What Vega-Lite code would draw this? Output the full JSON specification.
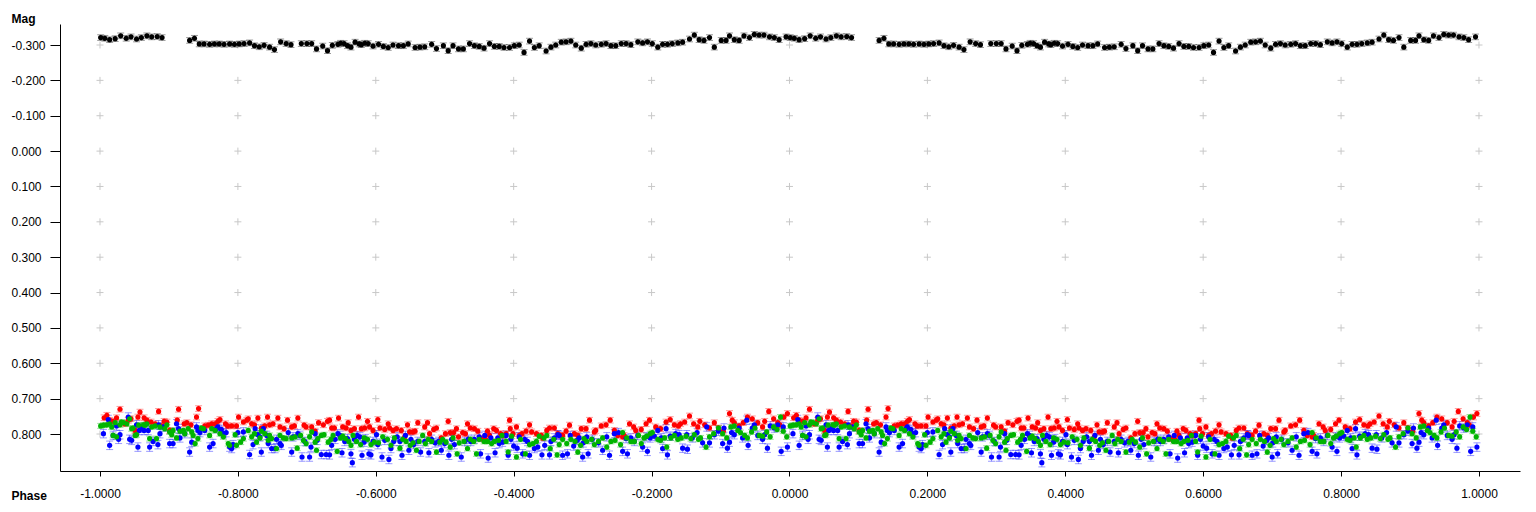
{
"$schema":"https://vega.github.io/schema/vega-lite/v6.json",
"width":1460,"height":447,
"autosize":{"type":"none"},
"padding":{"left":60,"top":24,"right":16,"bottom":41},
"config":{"view":{"stroke":null},"font":"Liberation Sans","locale":{"number":{"decimal":".","thousands":",","grouping":[3],"currency":["$",""],"minus":"-"}}},
"datasets":{
"grid":[{"value":-1,"m":[-0.3,-0.2,-0.1,0,0.1,0.2,0.3,0.4,0.5,0.6,0.7,0.8]},{"value":-0.8,"m":[-0.3,-0.2,-0.1,0,0.1,0.2,0.3,0.4,0.5,0.6,0.7,0.8]},{"value":-0.6,"m":[-0.3,-0.2,-0.1,0,0.1,0.2,0.3,0.4,0.5,0.6,0.7,0.8]},{"value":-0.4,"m":[-0.3,-0.2,-0.1,0,0.1,0.2,0.3,0.4,0.5,0.6,0.7,0.8]},{"value":-0.2,"m":[-0.3,-0.2,-0.1,0,0.1,0.2,0.3,0.4,0.5,0.6,0.7,0.8]},{"value":0,"m":[-0.3,-0.2,-0.1,0,0.1,0.2,0.3,0.4,0.5,0.6,0.7,0.8]},{"value":0.2,"m":[-0.3,-0.2,-0.1,0,0.1,0.2,0.3,0.4,0.5,0.6,0.7,0.8]},{"value":0.4,"m":[-0.3,-0.2,-0.1,0,0.1,0.2,0.3,0.4,0.5,0.6,0.7,0.8]},{"value":0.6,"m":[-0.3,-0.2,-0.1,0,0.1,0.2,0.3,0.4,0.5,0.6,0.7,0.8]},{"value":0.8,"m":[-0.3,-0.2,-0.1,0,0.1,0.2,0.3,0.4,0.5,0.6,0.7,0.8]},{"value":1,"m":[-0.3,-0.2,-0.1,0,0.1,0.2,0.3,0.4,0.5,0.6,0.7,0.8]}],
"err":[{"s":"K","e":0.008},{"s":"R","e":0.008},{"s":"B","e":0.012},{"s":"G","e":0.007}],
"obs":[
{"s":"K","a":-0.999,"b":0.001,"m":-0.321},{"s":"K","a":-0.993,"b":0.007,"m":-0.319},{"s":"K","a":-0.986,"b":0.014,"m":-0.315},{"s":"K","a":-0.978,"b":0.022,"m":-0.318},{"s":"K","a":-0.970,"b":0.030,"m":-0.326},{"s":"K","a":-0.962,"b":0.038,"m":-0.319},{"s":"K","a":-0.955,"b":0.045,"m":-0.323},{"s":"K","a":-0.947,"b":0.053,"m":-0.317},{"s":"K","a":-0.940,"b":0.060,"m":-0.321},{"s":"K","a":-0.932,"b":0.068,"m":-0.326},{"s":"K","a":-0.925,"b":0.075,"m":-0.323},{"s":"K","a":-0.917,"b":0.083,"m":-0.324},{"s":"K","a":-0.910,"b":0.090,"m":-0.321},
{"s":"K","a":-0.870,"b":0.130,"m":-0.313},{"s":"K","a":-0.863,"b":0.137,"m":-0.319},{"s":"K","a":-0.856,"b":0.144,"m":-0.303},{"s":"K","a":-0.849,"b":0.151,"m":-0.303},{"s":"K","a":-0.841,"b":0.159,"m":-0.302},{"s":"K","a":-0.834,"b":0.166,"m":-0.303},{"s":"K","a":-0.827,"b":0.173,"m":-0.303},{"s":"K","a":-0.820,"b":0.180,"m":-0.302},{"s":"K","a":-0.812,"b":0.188,"m":-0.303},{"s":"K","a":-0.805,"b":0.195,"m":-0.302},{"s":"K","a":-0.798,"b":0.202,"m":-0.303},{"s":"K","a":-0.791,"b":0.209,"m":-0.304},{"s":"K","a":-0.783,"b":0.217,"m":-0.306},{"s":"K","a":-0.776,"b":0.224,"m":-0.298},{"s":"K","a":-0.769,"b":0.231,"m":-0.295},{"s":"K","a":-0.762,"b":0.238,"m":-0.299},{"s":"K","a":-0.754,"b":0.246,"m":-0.294},{"s":"K","a":-0.747,"b":0.253,"m":-0.287},{"s":"K","a":-0.738,"b":0.262,"m":-0.309},{"s":"K","a":-0.730,"b":0.270,"m":-0.304},{"s":"K","a":-0.723,"b":0.277,"m":-0.301},{"s":"K","a":-0.708,"b":0.292,"m":-0.304},{"s":"K","a":-0.700,"b":0.300,"m":-0.304},{"s":"K","a":-0.693,"b":0.307,"m":-0.304},{"s":"K","a":-0.686,"b":0.314,"m":-0.289},{"s":"K","a":-0.677,"b":0.323,"m":-0.297},{"s":"K","a":-0.670,"b":0.330,"m":-0.284},{"s":"K","a":-0.663,"b":0.337,"m":-0.299},{"s":"K","a":-0.655,"b":0.345,"m":-0.302},{"s":"K","a":-0.651,"b":0.349,"m":-0.305},{"s":"K","a":-0.646,"b":0.354,"m":-0.304},{"s":"K","a":-0.641,"b":0.359,"m":-0.298},{"s":"K","a":-0.636,"b":0.364,"m":-0.294},{"s":"K","a":-0.630,"b":0.370,"m":-0.308},{"s":"K","a":-0.624,"b":0.376,"m":-0.303},{"s":"K","a":-0.621,"b":0.379,"m":-0.301},{"s":"K","a":-0.616,"b":0.384,"m":-0.305},{"s":"K","a":-0.611,"b":0.389,"m":-0.304},{"s":"K","a":-0.604,"b":0.396,"m":-0.297},{"s":"K","a":-0.596,"b":0.404,"m":-0.302},{"s":"K","a":-0.589,"b":0.411,"m":-0.296},{"s":"K","a":-0.582,"b":0.418,"m":-0.293},{"s":"K","a":-0.575,"b":0.425,"m":-0.300},{"s":"K","a":-0.567,"b":0.433,"m":-0.298},{"s":"K","a":-0.560,"b":0.440,"m":-0.298},{"s":"K","a":-0.553,"b":0.447,"m":-0.303},{"s":"K","a":-0.543,"b":0.457,"m":-0.293},{"s":"K","a":-0.536,"b":0.464,"m":-0.294},{"s":"K","a":-0.529,"b":0.471,"m":-0.295},{"s":"K","a":-0.519,"b":0.481,"m":-0.302},{"s":"K","a":-0.512,"b":0.488,"m":-0.290},{"s":"K","a":-0.502,"b":0.498,"m":-0.298},
{"s":"K","a":-0.495,"b":0.505,"m":-0.284},{"s":"K","a":-0.488,"b":0.512,"m":-0.298},{"s":"K","a":-0.480,"b":0.520,"m":-0.289},{"s":"K","a":-0.473,"b":0.527,"m":-0.289},{"s":"K","a":-0.464,"b":0.536,"m":-0.304},{"s":"K","a":-0.457,"b":0.543,"m":-0.298},{"s":"K","a":-0.450,"b":0.550,"m":-0.296},{"s":"K","a":-0.443,"b":0.557,"m":-0.291},{"s":"K","a":-0.435,"b":0.565,"m":-0.304},{"s":"K","a":-0.428,"b":0.572,"m":-0.296},{"s":"K","a":-0.421,"b":0.579,"m":-0.296},{"s":"K","a":-0.414,"b":0.586,"m":-0.293},{"s":"K","a":-0.406,"b":0.594,"m":-0.293},{"s":"K","a":-0.399,"b":0.601,"m":-0.298},{"s":"K","a":-0.392,"b":0.608,"m":-0.300},{"s":"K","a":-0.385,"b":0.615,"m":-0.279},{"s":"K","a":-0.377,"b":0.623,"m":-0.311},{"s":"K","a":-0.370,"b":0.630,"m":-0.293},{"s":"K","a":-0.363,"b":0.637,"m":-0.298},{"s":"K","a":-0.353,"b":0.647,"m":-0.283},{"s":"K","a":-0.346,"b":0.654,"m":-0.294},{"s":"K","a":-0.339,"b":0.661,"m":-0.300},{"s":"K","a":-0.331,"b":0.669,"m":-0.308},{"s":"K","a":-0.324,"b":0.676,"m":-0.309},{"s":"K","a":-0.317,"b":0.683,"m":-0.311},{"s":"K","a":-0.310,"b":0.690,"m":-0.300},{"s":"K","a":-0.302,"b":0.698,"m":-0.291},{"s":"K","a":-0.295,"b":0.705,"m":-0.302},{"s":"K","a":-0.288,"b":0.712,"m":-0.304},{"s":"K","a":-0.281,"b":0.719,"m":-0.300},{"s":"K","a":-0.273,"b":0.727,"m":-0.302},{"s":"K","a":-0.266,"b":0.734,"m":-0.304},{"s":"K","a":-0.259,"b":0.741,"m":-0.298},{"s":"K","a":-0.252,"b":0.748,"m":-0.298},{"s":"K","a":-0.244,"b":0.756,"m":-0.304},{"s":"K","a":-0.237,"b":0.763,"m":-0.304},{"s":"K","a":-0.230,"b":0.770,"m":-0.301},{"s":"K","a":-0.220,"b":0.780,"m":-0.309},{"s":"K","a":-0.213,"b":0.787,"m":-0.306},{"s":"K","a":-0.206,"b":0.794,"m":-0.309},{"s":"K","a":-0.199,"b":0.801,"m":-0.304},{"s":"K","a":-0.191,"b":0.809,"m":-0.294},{"s":"K","a":-0.184,"b":0.816,"m":-0.302},{"s":"K","a":-0.177,"b":0.823,"m":-0.302},{"s":"K","a":-0.170,"b":0.830,"m":-0.304},{"s":"K","a":-0.162,"b":0.838,"m":-0.306},{"s":"K","a":-0.155,"b":0.845,"m":-0.308},{"s":"K","a":-0.145,"b":0.855,"m":-0.317},{"s":"K","a":-0.138,"b":0.862,"m":-0.328},{"s":"K","a":-0.131,"b":0.869,"m":-0.315},{"s":"K","a":-0.124,"b":0.876,"m":-0.313},{"s":"K","a":-0.116,"b":0.884,"m":-0.321},{"s":"K","a":-0.109,"b":0.891,"m":-0.294},{"s":"K","a":-0.099,"b":0.901,"m":-0.313},{"s":"K","a":-0.092,"b":0.908,"m":-0.313},{"s":"K","a":-0.087,"b":0.913,"m":-0.326},{"s":"K","a":-0.080,"b":0.920,"m":-0.315},{"s":"K","a":-0.073,"b":0.927,"m":-0.313},{"s":"K","a":-0.066,"b":0.934,"m":-0.326},{"s":"K","a":-0.058,"b":0.942,"m":-0.321},{"s":"K","a":-0.051,"b":0.949,"m":-0.330},{"s":"K","a":-0.044,"b":0.956,"m":-0.328},{"s":"K","a":-0.037,"b":0.963,"m":-0.328},{"s":"K","a":-0.029,"b":0.971,"m":-0.323},{"s":"K","a":-0.022,"b":0.978,"m":-0.321},{"s":"K","a":-0.015,"b":0.985,"m":-0.315},{"s":"K","a":-0.005,"b":0.995,"m":-0.323},
{"s":"R","a":-0.994,"b":0.006,"m":0.754},{"s":"R","a":-0.990,"b":0.010,"m":0.747},{"s":"R","a":-0.986,"b":0.014,"m":0.761},{"s":"R","a":-0.981,"b":0.019,"m":0.764},{"s":"R","a":-0.976,"b":0.024,"m":0.754},{"s":"R","a":-0.971,"b":0.029,"m":0.730},{"s":"R","a":-0.964,"b":0.036,"m":0.771},{"s":"R","a":-0.959,"b":0.041,"m":0.761},{"s":"R","a":-0.955,"b":0.045,"m":0.757},{"s":"R","a":-0.949,"b":0.051,"m":0.790},{"s":"R","a":-0.945,"b":0.055,"m":0.752},{"s":"R","a":-0.942,"b":0.058,"m":0.738},{"s":"R","a":-0.936,"b":0.064,"m":0.754},{"s":"R","a":-0.932,"b":0.068,"m":0.761},{"s":"R","a":-0.926,"b":0.074,"m":0.766},{"s":"R","a":-0.920,"b":0.080,"m":0.771},{"s":"R","a":-0.915,"b":0.085,"m":0.736},{"s":"R","a":-0.911,"b":0.089,"m":0.777},{"s":"R","a":-0.907,"b":0.093,"m":0.764},{"s":"R","a":-0.903,"b":0.097,"m":0.766},{"s":"R","a":-0.899,"b":0.101,"m":0.790},{"s":"R","a":-0.888,"b":0.112,"m":0.761},{"s":"R","a":-0.886,"b":0.114,"m":0.730},{"s":"R","a":-0.878,"b":0.122,"m":0.771},{"s":"R","a":-0.874,"b":0.126,"m":0.768},{"s":"R","a":-0.868,"b":0.132,"m":0.774},{"s":"R","a":-0.860,"b":0.140,"m":0.752},{"s":"R","a":-0.857,"b":0.143,"m":0.728},{"s":"R","a":-0.848,"b":0.152,"m":0.777},{"s":"R","a":-0.843,"b":0.157,"m":0.775},{"s":"R","a":-0.838,"b":0.162,"m":0.771},{"s":"R","a":-0.833,"b":0.167,"m":0.771},{"s":"R","a":-0.829,"b":0.171,"m":0.764},{"s":"R","a":-0.826,"b":0.174,"m":0.759},{"s":"R","a":-0.818,"b":0.182,"m":0.771},{"s":"R","a":-0.815,"b":0.185,"m":0.777},{"s":"R","a":-0.809,"b":0.191,"m":0.777},{"s":"R","a":-0.802,"b":0.198,"m":0.777},{"s":"R","a":-0.799,"b":0.201,"m":0.752},{"s":"R","a":-0.792,"b":0.208,"m":0.766},{"s":"R","a":-0.787,"b":0.213,"m":0.761},{"s":"R","a":-0.785,"b":0.215,"m":0.757},{"s":"R","a":-0.780,"b":0.220,"m":0.771},{"s":"R","a":-0.776,"b":0.224,"m":0.774},{"s":"R","a":-0.771,"b":0.229,"m":0.755},{"s":"R","a":-0.766,"b":0.234,"m":0.783},{"s":"R","a":-0.761,"b":0.239,"m":0.777},{"s":"R","a":-0.757,"b":0.243,"m":0.752},{"s":"R","a":-0.754,"b":0.246,"m":0.774},{"s":"R","a":-0.749,"b":0.251,"m":0.771},{"s":"R","a":-0.742,"b":0.258,"m":0.755},{"s":"R","a":-0.739,"b":0.261,"m":0.780},{"s":"R","a":-0.733,"b":0.267,"m":0.785},{"s":"R","a":-0.728,"b":0.272,"m":0.761},{"s":"R","a":-0.722,"b":0.278,"m":0.780},{"s":"R","a":-0.718,"b":0.282,"m":0.777},{"s":"R","a":-0.713,"b":0.287,"m":0.755},{"s":"R","a":-0.704,"b":0.296,"m":0.775},{"s":"R","a":-0.701,"b":0.299,"m":0.780},{"s":"R","a":-0.693,"b":0.307,"m":0.780},{"s":"R","a":-0.688,"b":0.312,"m":0.792},{"s":"R","a":-0.683,"b":0.317,"m":0.768},{"s":"R","a":-0.676,"b":0.324,"m":0.774},{"s":"R","a":-0.670,"b":0.330,"m":0.764},
{"s":"R","a":-0.667,"b":0.333,"m":0.761},{"s":"R","a":-0.664,"b":0.336,"m":0.783},{"s":"R","a":-0.660,"b":0.340,"m":0.783},{"s":"R","a":-0.654,"b":0.346,"m":0.755},{"s":"R","a":-0.648,"b":0.352,"m":0.780},{"s":"R","a":-0.643,"b":0.357,"m":0.783},{"s":"R","a":-0.640,"b":0.360,"m":0.768},{"s":"R","a":-0.636,"b":0.364,"m":0.790},{"s":"R","a":-0.631,"b":0.369,"m":0.785},{"s":"R","a":-0.625,"b":0.375,"m":0.752},{"s":"R","a":-0.621,"b":0.379,"m":0.785},{"s":"R","a":-0.616,"b":0.384,"m":0.783},{"s":"R","a":-0.612,"b":0.388,"m":0.764},{"s":"R","a":-0.609,"b":0.391,"m":0.780},{"s":"R","a":-0.604,"b":0.396,"m":0.790},{"s":"R","a":-0.597,"b":0.403,"m":0.759},{"s":"R","a":-0.594,"b":0.406,"m":0.783},{"s":"R","a":-0.587,"b":0.413,"m":0.787},{"s":"R","a":-0.582,"b":0.418,"m":0.771},{"s":"R","a":-0.580,"b":0.420,"m":0.783},{"s":"R","a":-0.575,"b":0.425,"m":0.790},{"s":"R","a":-0.570,"b":0.430,"m":0.785},{"s":"R","a":-0.563,"b":0.437,"m":0.790},{"s":"R","a":-0.558,"b":0.442,"m":0.808},{"s":"R","a":-0.554,"b":0.446,"m":0.774},{"s":"R","a":-0.551,"b":0.449,"m":0.794},{"s":"R","a":-0.546,"b":0.454,"m":0.794},{"s":"R","a":-0.543,"b":0.457,"m":0.792},{"s":"R","a":-0.539,"b":0.461,"m":0.768},{"s":"R","a":-0.529,"b":0.471,"m":0.780},{"s":"R","a":-0.525,"b":0.475,"m":0.768},{"s":"R","a":-0.522,"b":0.478,"m":0.799},{"s":"R","a":-0.516,"b":0.484,"m":0.787},{"s":"R","a":-0.512,"b":0.488,"m":0.783},{"s":"R","a":-0.505,"b":0.495,"m":0.811},{"s":"R","a":-0.499,"b":0.501,"m":0.799},{"s":"R","a":-0.495,"b":0.505,"m":0.764},{"s":"R","a":-0.492,"b":0.508,"m":0.796},{"s":"R","a":-0.487,"b":0.513,"m":0.796},{"s":"R","a":-0.483,"b":0.517,"m":0.785},{"s":"R","a":-0.480,"b":0.520,"m":0.808},{"s":"R","a":-0.474,"b":0.526,"m":0.796},{"s":"R","a":-0.470,"b":0.530,"m":0.799},{"s":"R","a":-0.467,"b":0.533,"m":0.771},{"s":"R","a":-0.463,"b":0.537,"m":0.783},{"s":"R","a":-0.457,"b":0.543,"m":0.785},{"s":"R","a":-0.452,"b":0.548,"m":0.792},{"s":"R","a":-0.447,"b":0.553,"m":0.813},{"s":"R","a":-0.441,"b":0.559,"m":0.815},{"s":"R","a":-0.438,"b":0.562,"m":0.792},{"s":"R","a":-0.435,"b":0.565,"m":0.804},{"s":"R","a":-0.429,"b":0.571,"m":0.785},{"s":"R","a":-0.425,"b":0.575,"m":0.790},{"s":"R","a":-0.419,"b":0.581,"m":0.799},{"s":"R","a":-0.416,"b":0.584,"m":0.804},{"s":"R","a":-0.411,"b":0.589,"m":0.799},{"s":"R","a":-0.406,"b":0.594,"m":0.761},{"s":"R","a":-0.405,"b":0.595,"m":0.785},{"s":"R","a":-0.401,"b":0.599,"m":0.799},{"s":"R","a":-0.396,"b":0.604,"m":0.780},{"s":"R","a":-0.392,"b":0.608,"m":0.804},{"s":"R","a":-0.388,"b":0.612,"m":0.799},{"s":"R","a":-0.382,"b":0.618,"m":0.792},{"s":"R","a":-0.377,"b":0.623,"m":0.774},{"s":"R","a":-0.374,"b":0.626,"m":0.794},{"s":"R","a":-0.367,"b":0.633,"m":0.799},{"s":"R","a":-0.360,"b":0.640,"m":0.804},{"s":"R","a":-0.358,"b":0.642,"m":0.811},{"s":"R","a":-0.352,"b":0.648,"m":0.790},{"s":"R","a":-0.348,"b":0.652,"m":0.783},{"s":"R","a":-0.341,"b":0.659,"m":0.783},{"s":"R","a":-0.336,"b":0.664,"m":0.799},{"s":"R","a":-0.332,"b":0.668,"m":0.804},
{"s":"R","a":-0.329,"b":0.671,"m":0.804},{"s":"R","a":-0.324,"b":0.676,"m":0.792},{"s":"R","a":-0.319,"b":0.681,"m":0.775},{"s":"R","a":-0.312,"b":0.688,"m":0.799},{"s":"R","a":-0.307,"b":0.693,"m":0.804},{"s":"R","a":-0.302,"b":0.698,"m":0.785},{"s":"R","a":-0.295,"b":0.705,"m":0.785},{"s":"R","a":-0.290,"b":0.710,"m":0.761},{"s":"R","a":-0.283,"b":0.717,"m":0.794},{"s":"R","a":-0.281,"b":0.719,"m":0.790},{"s":"R","a":-0.273,"b":0.727,"m":0.777},{"s":"R","a":-0.266,"b":0.734,"m":0.774},{"s":"R","a":-0.260,"b":0.740,"m":0.761},{"s":"R","a":-0.254,"b":0.746,"m":0.790},{"s":"R","a":-0.249,"b":0.751,"m":0.804},{"s":"R","a":-0.242,"b":0.758,"m":0.808},{"s":"R","a":-0.240,"b":0.760,"m":0.804},{"s":"R","a":-0.232,"b":0.768,"m":0.771},{"s":"R","a":-0.226,"b":0.774,"m":0.780},{"s":"R","a":-0.223,"b":0.777,"m":0.790},{"s":"R","a":-0.215,"b":0.785,"m":0.787},{"s":"R","a":-0.208,"b":0.792,"m":0.771},{"s":"R","a":-0.203,"b":0.797,"m":0.761},{"s":"R","a":-0.199,"b":0.801,"m":0.804},{"s":"R","a":-0.194,"b":0.806,"m":0.780},{"s":"R","a":-0.187,"b":0.813,"m":0.785},{"s":"R","a":-0.179,"b":0.821,"m":0.766},{"s":"R","a":-0.173,"b":0.827,"m":0.759},{"s":"R","a":-0.167,"b":0.833,"m":0.774},{"s":"R","a":-0.161,"b":0.839,"m":0.777},{"s":"R","a":-0.158,"b":0.842,"m":0.771},{"s":"R","a":-0.152,"b":0.848,"m":0.766},{"s":"R","a":-0.145,"b":0.855,"m":0.749},{"s":"R","a":-0.139,"b":0.861,"m":0.771},{"s":"R","a":-0.133,"b":0.867,"m":0.780},{"s":"R","a":-0.130,"b":0.870,"m":0.764},{"s":"R","a":-0.123,"b":0.877,"m":0.774},{"s":"R","a":-0.116,"b":0.884,"m":0.783},{"s":"R","a":-0.109,"b":0.891,"m":0.768},{"s":"R","a":-0.103,"b":0.897,"m":0.783},{"s":"R","a":-0.096,"b":0.904,"m":0.792},{"s":"R","a":-0.087,"b":0.913,"m":0.742},{"s":"R","a":-0.083,"b":0.917,"m":0.761},{"s":"R","a":-0.080,"b":0.920,"m":0.768},{"s":"R","a":-0.073,"b":0.927,"m":0.777},{"s":"R","a":-0.067,"b":0.933,"m":0.768},{"s":"R","a":-0.061,"b":0.939,"m":0.752},{"s":"R","a":-0.054,"b":0.946,"m":0.757},{"s":"R","a":-0.046,"b":0.954,"m":0.768},{"s":"R","a":-0.039,"b":0.961,"m":0.780},{"s":"R","a":-0.036,"b":0.964,"m":0.764},{"s":"R","a":-0.030,"b":0.970,"m":0.736},{"s":"R","a":-0.023,"b":0.977,"m":0.757},{"s":"R","a":-0.017,"b":0.983,"m":0.768},{"s":"R","a":-0.014,"b":0.986,"m":0.774},{"s":"R","a":-0.008,"b":0.992,"m":0.752},{"s":"R","a":-0.003,"b":0.997,"m":0.742},
{"s":"B","a":-0.995,"b":0.005,"m":0.799},{"s":"B","a":-0.988,"b":0.012,"m":0.759},{"s":"B","a":-0.986,"b":0.014,"m":0.832},{"s":"B","a":-0.981,"b":0.019,"m":0.804},{"s":"B","a":-0.976,"b":0.024,"m":0.777},{"s":"B","a":-0.973,"b":0.027,"m":0.815},{"s":"B","a":-0.971,"b":0.029,"m":0.802},{"s":"B","a":-0.959,"b":0.041,"m":0.752},{"s":"B","a":-0.957,"b":0.043,"m":0.815},{"s":"B","a":-0.954,"b":0.046,"m":0.818},{"s":"B","a":-0.947,"b":0.053,"m":0.774},{"s":"B","a":-0.945,"b":0.055,"m":0.837},{"s":"B","a":-0.943,"b":0.057,"m":0.790},{"s":"B","a":-0.940,"b":0.060,"m":0.783},{"s":"B","a":-0.936,"b":0.064,"m":0.790},{"s":"B","a":-0.930,"b":0.070,"m":0.790},{"s":"B","a":-0.928,"b":0.072,"m":0.837},{"s":"B","a":-0.923,"b":0.077,"m":0.821},{"s":"B","a":-0.916,"b":0.084,"m":0.830},{"s":"B","a":-0.915,"b":0.085,"m":0.774},{"s":"B","a":-0.913,"b":0.087,"m":0.799},{"s":"B","a":-0.908,"b":0.092,"m":0.780},{"s":"B","a":-0.899,"b":0.101,"m":0.827},{"s":"B","a":-0.894,"b":0.106,"m":0.827},{"s":"B","a":-0.889,"b":0.111,"m":0.771},{"s":"B","a":-0.886,"b":0.114,"m":0.785},{"s":"B","a":-0.884,"b":0.116,"m":0.811},{"s":"B","a":-0.877,"b":0.123,"m":0.799},{"s":"B","a":-0.870,"b":0.130,"m":0.851},{"s":"B","a":-0.867,"b":0.133,"m":0.823},{"s":"B","a":-0.860,"b":0.140,"m":0.780},{"s":"B","a":-0.858,"b":0.142,"m":0.790},{"s":"B","a":-0.855,"b":0.145,"m":0.796},{"s":"B","a":-0.848,"b":0.152,"m":0.790},{"s":"B","a":-0.841,"b":0.159,"m":0.837},{"s":"B","a":-0.836,"b":0.164,"m":0.827},{"s":"B","a":-0.831,"b":0.169,"m":0.785},{"s":"B","a":-0.829,"b":0.171,"m":0.780},{"s":"B","a":-0.824,"b":0.176,"m":0.787},{"s":"B","a":-0.821,"b":0.179,"m":0.799},{"s":"B","a":-0.817,"b":0.183,"m":0.796},{"s":"B","a":-0.812,"b":0.188,"m":0.837},{"s":"B","a":-0.809,"b":0.191,"m":0.841},{"s":"B","a":-0.807,"b":0.193,"m":0.830},{"s":"B","a":-0.800,"b":0.200,"m":0.796},{"s":"B","a":-0.792,"b":0.208,"m":0.794},{"s":"B","a":-0.783,"b":0.217,"m":0.858},{"s":"B","a":-0.778,"b":0.222,"m":0.830},{"s":"B","a":-0.775,"b":0.225,"m":0.785},{"s":"B","a":-0.771,"b":0.229,"m":0.802},{"s":"B","a":-0.768,"b":0.232,"m":0.808},{"s":"B","a":-0.766,"b":0.234,"m":0.851},{"s":"B","a":-0.763,"b":0.237,"m":0.785},{"s":"B","a":-0.758,"b":0.242,"m":0.804},{"s":"B","a":-0.756,"b":0.244,"m":0.827},{"s":"B","a":-0.751,"b":0.249,"m":0.841},{"s":"B","a":-0.746,"b":0.254,"m":0.841},{"s":"B","a":-0.744,"b":0.256,"m":0.815},{"s":"B","a":-0.739,"b":0.261,"m":0.827},{"s":"B","a":-0.737,"b":0.263,"m":0.832},{"s":"B","a":-0.727,"b":0.273,"m":0.796},{"s":"B","a":-0.722,"b":0.278,"m":0.851},{"s":"B","a":-0.720,"b":0.280,"m":0.808},{"s":"B","a":-0.713,"b":0.287,"m":0.799},{"s":"B","a":-0.710,"b":0.290,"m":0.804},{"s":"B","a":-0.707,"b":0.293,"m":0.865},{"s":"B","a":-0.703,"b":0.297,"m":0.821},{"s":"B","a":-0.696,"b":0.304,"m":0.865},{"s":"B","a":-0.694,"b":0.306,"m":0.837},{"s":"B","a":-0.688,"b":0.312,"m":0.799},{"s":"B","a":-0.685,"b":0.315,"m":0.818},{"s":"B","a":-0.679,"b":0.321,"m":0.858},{"s":"B","a":-0.672,"b":0.328,"m":0.858},
{"s":"B","a":-0.667,"b":0.333,"m":0.859},{"s":"B","a":-0.664,"b":0.336,"m":0.832},{"s":"B","a":-0.659,"b":0.341,"m":0.815},{"s":"B","a":-0.655,"b":0.345,"m":0.799},{"s":"B","a":-0.652,"b":0.348,"m":0.804},{"s":"B","a":-0.649,"b":0.351,"m":0.853},{"s":"B","a":-0.645,"b":0.355,"m":0.821},{"s":"B","a":-0.641,"b":0.359,"m":0.813},{"s":"B","a":-0.636,"b":0.364,"m":0.856},{"s":"B","a":-0.634,"b":0.366,"m":0.881},{"s":"B","a":-0.631,"b":0.369,"m":0.815},{"s":"B","a":-0.627,"b":0.373,"m":0.804},{"s":"B","a":-0.623,"b":0.377,"m":0.808},{"s":"B","a":-0.620,"b":0.380,"m":0.860},{"s":"B","a":-0.617,"b":0.383,"m":0.823},{"s":"B","a":-0.615,"b":0.385,"m":0.813},{"s":"B","a":-0.610,"b":0.390,"m":0.856},{"s":"B","a":-0.607,"b":0.393,"m":0.859},{"s":"B","a":-0.604,"b":0.396,"m":0.821},{"s":"B","a":-0.599,"b":0.401,"m":0.802},{"s":"B","a":-0.597,"b":0.403,"m":0.830},{"s":"B","a":-0.591,"b":0.409,"m":0.865},{"s":"B","a":-0.587,"b":0.413,"m":0.818},{"s":"B","a":-0.581,"b":0.419,"m":0.872},{"s":"B","a":-0.578,"b":0.422,"m":0.841},{"s":"B","a":-0.574,"b":0.426,"m":0.821},{"s":"B","a":-0.569,"b":0.431,"m":0.808},{"s":"B","a":-0.565,"b":0.435,"m":0.821},{"s":"B","a":-0.562,"b":0.438,"m":0.860},{"s":"B","a":-0.557,"b":0.443,"m":0.804},{"s":"B","a":-0.552,"b":0.448,"m":0.846},{"s":"B","a":-0.549,"b":0.451,"m":0.815},{"s":"B","a":-0.545,"b":0.455,"m":0.830},{"s":"B","a":-0.539,"b":0.461,"m":0.821},{"s":"B","a":-0.535,"b":0.465,"m":0.851},{"s":"B","a":-0.529,"b":0.471,"m":0.821},{"s":"B","a":-0.523,"b":0.477,"m":0.853},{"s":"B","a":-0.519,"b":0.481,"m":0.815},{"s":"B","a":-0.514,"b":0.486,"m":0.825},{"s":"B","a":-0.509,"b":0.491,"m":0.821},{"s":"B","a":-0.505,"b":0.495,"m":0.846},{"s":"B","a":-0.500,"b":0.500,"m":0.827},{"s":"B","a":-0.494,"b":0.506,"m":0.860},{"s":"B","a":-0.490,"b":0.510,"m":0.815},{"s":"B","a":-0.486,"b":0.514,"m":0.830},{"s":"B","a":-0.476,"b":0.524,"m":0.865},{"s":"B","a":-0.471,"b":0.529,"m":0.821},{"s":"B","a":-0.466,"b":0.534,"m":0.815},{"s":"B","a":-0.462,"b":0.538,"m":0.821},{"s":"B","a":-0.457,"b":0.543,"m":0.815},{"s":"B","a":-0.450,"b":0.550,"m":0.808},{"s":"B","a":-0.448,"b":0.552,"m":0.856},{"s":"B","a":-0.442,"b":0.558,"m":0.804},{"s":"B","a":-0.437,"b":0.563,"m":0.868},{"s":"B","a":-0.433,"b":0.567,"m":0.811},{"s":"B","a":-0.427,"b":0.573,"m":0.853},{"s":"B","a":-0.423,"b":0.577,"m":0.811},{"s":"B","a":-0.421,"b":0.579,"m":0.827},{"s":"B","a":-0.416,"b":0.584,"m":0.823},{"s":"B","a":-0.411,"b":0.589,"m":0.804},{"s":"B","a":-0.408,"b":0.592,"m":0.860},{"s":"B","a":-0.404,"b":0.596,"m":0.815},{"s":"B","a":-0.400,"b":0.600,"m":0.834},{"s":"B","a":-0.395,"b":0.605,"m":0.840},{"s":"B","a":-0.392,"b":0.608,"m":0.808},{"s":"B","a":-0.387,"b":0.613,"m":0.856},{"s":"B","a":-0.384,"b":0.616,"m":0.815},{"s":"B","a":-0.380,"b":0.620,"m":0.821},{"s":"B","a":-0.377,"b":0.623,"m":0.860},{"s":"B","a":-0.370,"b":0.630,"m":0.841},{"s":"B","a":-0.365,"b":0.635,"m":0.837},{"s":"B","a":-0.359,"b":0.641,"m":0.859},{"s":"B","a":-0.355,"b":0.645,"m":0.832},{"s":"B","a":-0.348,"b":0.652,"m":0.859},{"s":"B","a":-0.346,"b":0.654,"m":0.821},{"s":"B","a":-0.341,"b":0.659,"m":0.811},{"s":"B","a":-0.336,"b":0.664,"m":0.802},{"s":"B","a":-0.334,"b":0.666,"m":0.804},
{"s":"B","a":-0.329,"b":0.671,"m":0.860},{"s":"B","a":-0.322,"b":0.678,"m":0.856},{"s":"B","a":-0.318,"b":0.682,"m":0.804},{"s":"B","a":-0.313,"b":0.687,"m":0.834},{"s":"B","a":-0.308,"b":0.692,"m":0.818},{"s":"B","a":-0.305,"b":0.695,"m":0.811},{"s":"B","a":-0.300,"b":0.700,"m":0.865},{"s":"B","a":-0.299,"b":0.701,"m":0.825},{"s":"B","a":-0.294,"b":0.706,"m":0.808},{"s":"B","a":-0.292,"b":0.708,"m":0.856},{"s":"B","a":-0.286,"b":0.714,"m":0.815},{"s":"B","a":-0.277,"b":0.723,"m":0.825},{"s":"B","a":-0.271,"b":0.729,"m":0.846},{"s":"B","a":-0.265,"b":0.735,"m":0.808},{"s":"B","a":-0.261,"b":0.739,"m":0.860},{"s":"B","a":-0.254,"b":0.746,"m":0.799},{"s":"B","a":-0.248,"b":0.752,"m":0.796},{"s":"B","a":-0.242,"b":0.758,"m":0.849},{"s":"B","a":-0.237,"b":0.763,"m":0.813},{"s":"B","a":-0.235,"b":0.765,"m":0.856},{"s":"B","a":-0.230,"b":0.770,"m":0.811},{"s":"B","a":-0.225,"b":0.775,"m":0.821},{"s":"B","a":-0.220,"b":0.780,"m":0.804},{"s":"B","a":-0.213,"b":0.787,"m":0.837},{"s":"B","a":-0.208,"b":0.792,"m":0.808},{"s":"B","a":-0.206,"b":0.794,"m":0.849},{"s":"B","a":-0.202,"b":0.798,"m":0.811},{"s":"B","a":-0.196,"b":0.804,"m":0.806},{"s":"B","a":-0.191,"b":0.809,"m":0.790},{"s":"B","a":-0.186,"b":0.814,"m":0.811},{"s":"B","a":-0.184,"b":0.816,"m":0.841},{"s":"B","a":-0.179,"b":0.821,"m":0.785},{"s":"B","a":-0.177,"b":0.823,"m":0.859},{"s":"B","a":-0.173,"b":0.827,"m":0.806},{"s":"B","a":-0.165,"b":0.835,"m":0.799},{"s":"B","a":-0.160,"b":0.840,"m":0.802},{"s":"B","a":-0.155,"b":0.845,"m":0.840},{"s":"B","a":-0.149,"b":0.851,"m":0.802},{"s":"B","a":-0.148,"b":0.852,"m":0.843},{"s":"B","a":-0.141,"b":0.859,"m":0.811},{"s":"B","a":-0.134,"b":0.866,"m":0.796},{"s":"B","a":-0.126,"b":0.874,"m":0.825},{"s":"B","a":-0.120,"b":0.880,"m":0.780},{"s":"B","a":-0.116,"b":0.884,"m":0.825},{"s":"B","a":-0.109,"b":0.891,"m":0.802},{"s":"B","a":-0.103,"b":0.897,"m":0.792},{"s":"B","a":-0.097,"b":0.903,"m":0.827},{"s":"B","a":-0.095,"b":0.905,"m":0.783},{"s":"B","a":-0.090,"b":0.910,"m":0.840},{"s":"B","a":-0.087,"b":0.913,"m":0.823},{"s":"B","a":-0.084,"b":0.916,"m":0.796},{"s":"B","a":-0.080,"b":0.920,"m":0.802},{"s":"B","a":-0.073,"b":0.927,"m":0.783},{"s":"B","a":-0.068,"b":0.932,"m":0.811},{"s":"B","a":-0.062,"b":0.938,"m":0.761},{"s":"B","a":-0.060,"b":0.940,"m":0.832},{"s":"B","a":-0.054,"b":0.946,"m":0.783},{"s":"B","a":-0.051,"b":0.949,"m":0.774},{"s":"B","a":-0.046,"b":0.954,"m":0.804},{"s":"B","a":-0.039,"b":0.961,"m":0.815},{"s":"B","a":-0.036,"b":0.964,"m":0.802},{"s":"B","a":-0.032,"b":0.968,"m":0.840},{"s":"B","a":-0.028,"b":0.972,"m":0.777},{"s":"B","a":-0.022,"b":0.978,"m":0.783},{"s":"B","a":-0.017,"b":0.983,"m":0.774},{"s":"B","a":-0.012,"b":0.988,"m":0.849},{"s":"B","a":-0.009,"b":0.991,"m":0.780},{"s":"B","a":-0.003,"b":0.997,"m":0.837},
{"s":"G","a":-0.999,"b":0.001,"m":0.777},{"s":"G","a":-0.995,"b":0.005,"m":0.775},{"s":"G","a":-0.990,"b":0.010,"m":0.774},{"s":"G","a":-0.986,"b":0.014,"m":0.771},{"s":"G","a":-0.983,"b":0.017,"m":0.780},{"s":"G","a":-0.981,"b":0.019,"m":0.804},{"s":"G","a":-0.978,"b":0.022,"m":0.768},{"s":"G","a":-0.976,"b":0.024,"m":0.808},{"s":"G","a":-0.971,"b":0.029,"m":0.774},{"s":"G","a":-0.969,"b":0.031,"m":0.766},{"s":"G","a":-0.966,"b":0.034,"m":0.768},{"s":"G","a":-0.961,"b":0.039,"m":0.771},{"s":"G","a":-0.957,"b":0.043,"m":0.757},{"s":"G","a":-0.954,"b":0.046,"m":0.785},{"s":"G","a":-0.952,"b":0.048,"m":0.783},{"s":"G","a":-0.949,"b":0.051,"m":0.804},{"s":"G","a":-0.947,"b":0.053,"m":0.802},{"s":"G","a":-0.944,"b":0.056,"m":0.775},{"s":"G","a":-0.937,"b":0.063,"m":0.774},{"s":"G","a":-0.935,"b":0.065,"m":0.775},{"s":"G","a":-0.932,"b":0.068,"m":0.771},{"s":"G","a":-0.928,"b":0.072,"m":0.813},{"s":"G","a":-0.925,"b":0.075,"m":0.780},{"s":"G","a":-0.920,"b":0.080,"m":0.777},{"s":"G","a":-0.918,"b":0.082,"m":0.813},{"s":"G","a":-0.913,"b":0.087,"m":0.780},{"s":"G","a":-0.906,"b":0.094,"m":0.785},{"s":"G","a":-0.903,"b":0.097,"m":0.774},{"s":"G","a":-0.899,"b":0.101,"m":0.794},{"s":"G","a":-0.896,"b":0.104,"m":0.802},{"s":"G","a":-0.894,"b":0.106,"m":0.790},{"s":"G","a":-0.889,"b":0.111,"m":0.811},{"s":"G","a":-0.884,"b":0.116,"m":0.792},{"s":"G","a":-0.879,"b":0.121,"m":0.790},{"s":"G","a":-0.877,"b":0.123,"m":0.799},{"s":"G","a":-0.872,"b":0.128,"m":0.785},{"s":"G","a":-0.867,"b":0.133,"m":0.794},{"s":"G","a":-0.865,"b":0.135,"m":0.804},{"s":"G","a":-0.862,"b":0.138,"m":0.827},{"s":"G","a":-0.858,"b":0.142,"m":0.813},{"s":"G","a":-0.853,"b":0.147,"m":0.783},{"s":"G","a":-0.850,"b":0.150,"m":0.785},{"s":"G","a":-0.841,"b":0.159,"m":0.804},{"s":"G","a":-0.838,"b":0.162,"m":0.785},{"s":"G","a":-0.833,"b":0.167,"m":0.790},{"s":"G","a":-0.826,"b":0.174,"m":0.799},{"s":"G","a":-0.821,"b":0.179,"m":0.808},{"s":"G","a":-0.814,"b":0.186,"m":0.827},{"s":"G","a":-0.812,"b":0.188,"m":0.832},{"s":"G","a":-0.804,"b":0.196,"m":0.802},{"s":"G","a":-0.802,"b":0.198,"m":0.832},{"s":"G","a":-0.796,"b":0.204,"m":0.823},{"s":"G","a":-0.792,"b":0.208,"m":0.813},{"s":"G","a":-0.785,"b":0.215,"m":0.790},{"s":"G","a":-0.780,"b":0.220,"m":0.808},{"s":"G","a":-0.776,"b":0.224,"m":0.799},{"s":"G","a":-0.773,"b":0.227,"m":0.823},{"s":"G","a":-0.768,"b":0.232,"m":0.811},{"s":"G","a":-0.766,"b":0.234,"m":0.792},{"s":"G","a":-0.761,"b":0.239,"m":0.799},{"s":"G","a":-0.756,"b":0.244,"m":0.818},{"s":"G","a":-0.754,"b":0.246,"m":0.804},{"s":"G","a":-0.751,"b":0.249,"m":0.813},{"s":"G","a":-0.744,"b":0.256,"m":0.841},{"s":"G","a":-0.739,"b":0.261,"m":0.804},{"s":"G","a":-0.734,"b":0.266,"m":0.811},{"s":"G","a":-0.730,"b":0.270,"m":0.813},{"s":"G","a":-0.722,"b":0.278,"m":0.811},{"s":"G","a":-0.717,"b":0.283,"m":0.808},{"s":"G","a":-0.714,"b":0.286,"m":0.840},{"s":"G","a":-0.709,"b":0.291,"m":0.804},{"s":"G","a":-0.705,"b":0.295,"m":0.818},{"s":"G","a":-0.701,"b":0.299,"m":0.827},{"s":"G","a":-0.696,"b":0.304,"m":0.808},{"s":"G","a":-0.693,"b":0.307,"m":0.794},{"s":"G","a":-0.688,"b":0.312,"m":0.823},{"s":"G","a":-0.686,"b":0.314,"m":0.846},{"s":"G","a":-0.684,"b":0.316,"m":0.813},{"s":"G","a":-0.679,"b":0.321,"m":0.804},{"s":"G","a":-0.675,"b":0.325,"m":0.802},{"s":"G","a":-0.669,"b":0.331,"m":0.823},
{"s":"G","a":-0.665,"b":0.335,"m":0.815},{"s":"G","a":-0.662,"b":0.338,"m":0.804},{"s":"G","a":-0.656,"b":0.344,"m":0.849},{"s":"G","a":-0.651,"b":0.349,"m":0.811},{"s":"G","a":-0.648,"b":0.352,"m":0.806},{"s":"G","a":-0.644,"b":0.356,"m":0.813},{"s":"G","a":-0.639,"b":0.361,"m":0.821},{"s":"G","a":-0.636,"b":0.364,"m":0.832},{"s":"G","a":-0.633,"b":0.367,"m":0.804},{"s":"G","a":-0.628,"b":0.372,"m":0.821},{"s":"G","a":-0.622,"b":0.378,"m":0.830},{"s":"G","a":-0.617,"b":0.383,"m":0.811},{"s":"G","a":-0.612,"b":0.388,"m":0.815},{"s":"G","a":-0.607,"b":0.393,"m":0.830},{"s":"G","a":-0.602,"b":0.398,"m":0.823},{"s":"G","a":-0.596,"b":0.404,"m":0.825},{"s":"G","a":-0.590,"b":0.410,"m":0.808},{"s":"G","a":-0.583,"b":0.417,"m":0.815},{"s":"G","a":-0.578,"b":0.422,"m":0.832},{"s":"G","a":-0.573,"b":0.427,"m":0.811},{"s":"G","a":-0.565,"b":0.435,"m":0.840},{"s":"G","a":-0.561,"b":0.439,"m":0.815},{"s":"G","a":-0.556,"b":0.444,"m":0.821},{"s":"G","a":-0.550,"b":0.450,"m":0.832},{"s":"G","a":-0.546,"b":0.454,"m":0.825},{"s":"G","a":-0.541,"b":0.459,"m":0.846},{"s":"G","a":-0.537,"b":0.463,"m":0.821},{"s":"G","a":-0.532,"b":0.468,"m":0.804},{"s":"G","a":-0.528,"b":0.472,"m":0.827},{"s":"G","a":-0.524,"b":0.476,"m":0.815},{"s":"G","a":-0.519,"b":0.481,"m":0.821},{"s":"G","a":-0.512,"b":0.488,"m":0.851},{"s":"G","a":-0.507,"b":0.493,"m":0.823},{"s":"G","a":-0.503,"b":0.497,"m":0.815},{"s":"G","a":-0.498,"b":0.502,"m":0.823},{"s":"G","a":-0.492,"b":0.508,"m":0.837},{"s":"G","a":-0.488,"b":0.512,"m":0.811},{"s":"G","a":-0.482,"b":0.518,"m":0.856},{"s":"G","a":-0.479,"b":0.521,"m":0.825},{"s":"G","a":-0.472,"b":0.528,"m":0.821},{"s":"G","a":-0.467,"b":0.533,"m":0.841},{"s":"G","a":-0.463,"b":0.537,"m":0.815},{"s":"G","a":-0.458,"b":0.542,"m":0.821},{"s":"G","a":-0.454,"b":0.546,"m":0.856},{"s":"G","a":-0.450,"b":0.550,"m":0.815},{"s":"G","a":-0.443,"b":0.557,"m":0.821},{"s":"G","a":-0.438,"b":0.562,"m":0.821},{"s":"G","a":-0.432,"b":0.568,"m":0.827},{"s":"G","a":-0.428,"b":0.572,"m":0.821},{"s":"G","a":-0.422,"b":0.578,"m":0.818},{"s":"G","a":-0.417,"b":0.583,"m":0.804},{"s":"G","a":-0.411,"b":0.589,"m":0.821},{"s":"G","a":-0.408,"b":0.592,"m":0.851},{"s":"G","a":-0.403,"b":0.597,"m":0.806},{"s":"G","a":-0.396,"b":0.604,"m":0.865},{"s":"G","a":-0.390,"b":0.610,"m":0.815},{"s":"G","a":-0.383,"b":0.617,"m":0.856},{"s":"G","a":-0.377,"b":0.623,"m":0.830},{"s":"G","a":-0.372,"b":0.628,"m":0.827},{"s":"G","a":-0.367,"b":0.633,"m":0.821},{"s":"G","a":-0.363,"b":0.637,"m":0.806},{"s":"G","a":-0.356,"b":0.644,"m":0.811},{"s":"G","a":-0.352,"b":0.648,"m":0.804},{"s":"G","a":-0.347,"b":0.653,"m":0.841},{"s":"G","a":-0.342,"b":0.658,"m":0.815},{"s":"G","a":-0.337,"b":0.663,"m":0.859},{"s":"G","a":-0.334,"b":0.666,"m":0.830},
{"s":"G","a":-0.329,"b":0.671,"m":0.815},{"s":"G","a":-0.323,"b":0.677,"m":0.827},{"s":"G","a":-0.317,"b":0.683,"m":0.815},{"s":"G","a":-0.311,"b":0.689,"m":0.821},{"s":"G","a":-0.307,"b":0.693,"m":0.851},{"s":"G","a":-0.303,"b":0.697,"m":0.832},{"s":"G","a":-0.298,"b":0.702,"m":0.813},{"s":"G","a":-0.294,"b":0.706,"m":0.821},{"s":"G","a":-0.287,"b":0.713,"m":0.815},{"s":"G","a":-0.283,"b":0.717,"m":0.830},{"s":"G","a":-0.277,"b":0.723,"m":0.821},{"s":"G","a":-0.271,"b":0.729,"m":0.811},{"s":"G","a":-0.265,"b":0.735,"m":0.837},{"s":"G","a":-0.259,"b":0.741,"m":0.821},{"s":"G","a":-0.253,"b":0.747,"m":0.818},{"s":"G","a":-0.245,"b":0.755,"m":0.830},{"s":"G","a":-0.242,"b":0.758,"m":0.796},{"s":"G","a":-0.236,"b":0.764,"m":0.811},{"s":"G","a":-0.230,"b":0.770,"m":0.821},{"s":"G","a":-0.225,"b":0.775,"m":0.821},{"s":"G","a":-0.219,"b":0.781,"m":0.804},{"s":"G","a":-0.215,"b":0.785,"m":0.827},{"s":"G","a":-0.211,"b":0.789,"m":0.811},{"s":"G","a":-0.207,"b":0.793,"m":0.806},{"s":"G","a":-0.202,"b":0.798,"m":0.799},{"s":"G","a":-0.199,"b":0.801,"m":0.796},{"s":"G","a":-0.191,"b":0.809,"m":0.815},{"s":"G","a":-0.187,"b":0.813,"m":0.818},{"s":"G","a":-0.181,"b":0.819,"m":0.811},{"s":"G","a":-0.178,"b":0.822,"m":0.837},{"s":"G","a":-0.172,"b":0.828,"m":0.811},{"s":"G","a":-0.167,"b":0.833,"m":0.804},{"s":"G","a":-0.162,"b":0.838,"m":0.815},{"s":"G","a":-0.157,"b":0.843,"m":0.811},{"s":"G","a":-0.150,"b":0.850,"m":0.806},{"s":"G","a":-0.143,"b":0.857,"m":0.813},{"s":"G","a":-0.138,"b":0.862,"m":0.802},{"s":"G","a":-0.132,"b":0.868,"m":0.815},{"s":"G","a":-0.129,"b":0.871,"m":0.811},{"s":"G","a":-0.121,"b":0.879,"m":0.837},{"s":"G","a":-0.116,"b":0.884,"m":0.808},{"s":"G","a":-0.110,"b":0.890,"m":0.799},{"s":"G","a":-0.103,"b":0.897,"m":0.783},{"s":"G","a":-0.097,"b":0.903,"m":0.799},{"s":"G","a":-0.091,"b":0.909,"m":0.811},{"s":"G","a":-0.085,"b":0.915,"m":0.780},{"s":"G","a":-0.080,"b":0.920,"m":0.777},{"s":"G","a":-0.075,"b":0.925,"m":0.790},{"s":"G","a":-0.071,"b":0.929,"m":0.796},{"s":"G","a":-0.065,"b":0.935,"m":0.804},{"s":"G","a":-0.061,"b":0.939,"m":0.811},{"s":"G","a":-0.055,"b":0.945,"m":0.794},{"s":"G","a":-0.050,"b":0.950,"m":0.783},{"s":"G","a":-0.044,"b":0.956,"m":0.804},{"s":"G","a":-0.039,"b":0.961,"m":0.806},{"s":"G","a":-0.033,"b":0.967,"m":0.794},{"s":"G","a":-0.028,"b":0.972,"m":0.808},{"s":"G","a":-0.023,"b":0.977,"m":0.780},{"s":"G","a":-0.018,"b":0.982,"m":0.787},{"s":"G","a":-0.013,"b":0.987,"m":0.752},{"s":"G","a":-0.009,"b":0.991,"m":0.792},{"s":"G","a":-0.004,"b":0.996,"m":0.808}
]},
"encoding":{
"x":{"field":"value","type":"quantitative","scale":{"domain":[-1.058,1.0595],"nice":false,"zero":false},
"axis":{"values":[-1,-0.8,-0.6,-0.4,-0.2,0,0.2,0.4,0.6,0.8,1],"format":".4f","grid":false,"domainColor":"#000000","tickColor":"#000000","tickSize":5,"labelFontSize":12,"labelColor":"#000000","labelPadding":12,"labelFlush":false,"title":"Phase","titleAngle":0,"titleX":-49,"titleY":24,"titleAlign":"left","titleBaseline":"middle","titleFontSize":12,"titleFontWeight":"bold","titleColor":"#000000"}},
"y":{"field":"m","type":"quantitative","scale":{"domain":[-0.3594,0.9046],"reverse":true,"nice":false,"zero":false},
"axis":{"values":[-0.3,-0.2,-0.1,0,0.1,0.2,0.3,0.4,0.5,0.6,0.7,0.8],"format":".3f","grid":false,"domainColor":"#000000","tickColor":"#000000","tickSize":10,"labelFontSize":12,"labelColor":"#000000","labelAlign":"left","labelPadding":39,"labelFlush":false,"title":"Mag","titleAngle":0,"titleX":-49,"titleY":-6,"titleAlign":"left","titleBaseline":"middle","titleFontSize":12,"titleFontWeight":"bold","titleColor":"#000000"}}
},
"layer":[
{"data":{"name":"grid"},"transform":[{"flatten":["m"]}],"mark":{"type":"point","shape":"M-1,0H1M0,-1V1","size":49,"filled":false,"color":"#c8c8c8","strokeWidth":1,"opacity":1}},
{"data":{"name":"obs"},"transform":[{"fold":["a","b"]},{"lookup":"s","from":{"data":{"name":"err"},"key":"s","fields":["e"]}}],
"mark":{"type":"errorbar","rule":{"opacity":0.4},"ticks":{"size":7,"opacity":0.4}},
"encoding":{"yError":{"field":"e"},"color":{"field":"s","type":"nominal","scale":{"domain":["K","R","B","G"],"range":["#000000","#ff0000","#0000ff","#00b400"]},"legend":null}}},
{"data":{"name":"obs"},"transform":[{"fold":["a","b"]}],
"mark":{"type":"point","filled":true,"shape":"circle","size":27,"opacity":1},
"encoding":{"color":{"field":"s","type":"nominal","scale":{"domain":["K","R","B","G"],"range":["#000000","#ff0000","#0000ff","#00b400"]},"legend":null}}}
]
}
